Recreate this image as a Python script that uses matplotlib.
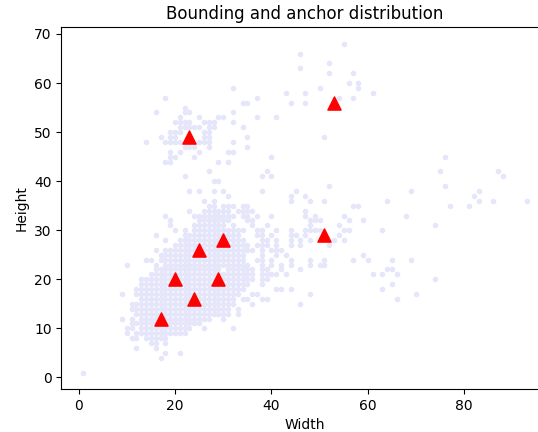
import matplotlib
matplotlib.use("Agg")
import matplotlib.pyplot as plt

# Box sizes (integer grid), grouped by height
box_heights = [68, 66, 64, 63, 62, 60, 59, 58, 57, 56, 55, 54, 53, 52, 51, 50, 49, 48, 47, 46,
               45, 44, 42, 41, 40, 39, 38, 37, 36, 35, 34, 33, 32, 31, 30, 29, 28, 27, 26, 25,
               24, 23, 22, 21, 20, 19, 18, 17, 16, 15, 14, 13, 12, 11, 10, 9, 8, 7, 6, 5, 4, 1]
box_widths = [
    [55],
    [46],
    [52],
    [46],
    [52, 57],
    [56, 58],
    [32, 50, 58],
    [43, 47, 61],
    [18, 37, 54, 57],
    [34, 35, 44, 47],
    [22],
    [16, 22, 23, 32],
    [21, 25, 29, 30, 37, 41],
    [20, 21, 22, 23, 26, 27, 28, 32],
    [21, 22, 23, 24, 25, 27, 28, 34],
    [19, 20, 21, 26, 27],
    [17, 19, 20, 26, 27, 35, 51],
    [14, 18, 19, 20, 21, 25, 26, 27, 32],
    [22, 23, 24, 27, 35],
    [19, 21, 25, 31, 32],
    [19, 20, 24, 40, 76],
    [18, 19, 29, 31],
    [27, 39, 75, 87],
    [22, 38, 40, 88],
    [28, 29],
    [52, 76],
    [23, 25, 28, 30, 38, 45, 69, 83],
    [31, 44, 47, 82],
    [26, 28, 44, 48, 51, 64, 83, 86, 93],
    [27, 28, 30, 31, 32, 34, 35, 57, 58, 77, 81],
    [23, 26, 27, 28, 29, 30, 31, 33, 34, 35, 36, 47],
    [18, 24, 25, 26, 27, 28, 29, 30, 31, 32, 34, 35, 37, 40, 47, 49, 55, 68],
    [19, 25, 26, 27, 28, 29, 30, 31, 35, 36, 48, 49, 50, 56, 59],
    [19, 24, 25, 26, 27, 28, 29, 30, 32, 36, 39, 48, 54, 74],
    [20, 22, 24, 25, 26, 27, 28, 29, 30, 31, 32, 33, 34, 37, 38, 41, 44, 47, 48, 49, 50, 55, 56, 63],
    [16, 22, 23, 24, 25, 26, 27, 28, 29, 30, 31, 32, 33, 37, 38, 40, 44, 45, 47, 54],
    [18, 21, 22, 23, 24, 25, 26, 27, 28, 29, 30, 31, 32, 33, 34, 38, 39, 41, 44, 46, 48, 53, 55],
    [20, 21, 22, 23, 24, 25, 26, 27, 28, 29, 30, 31, 32, 33, 34, 35, 37, 38, 39, 41, 44, 46, 52],
    [16, 18, 19, 20, 21, 22, 23, 24, 25, 26, 27, 28, 29, 30, 31, 32, 33, 34, 35, 36, 38, 40, 41, 42],
    [17, 18, 19, 20, 21, 22, 23, 24, 25, 26, 27, 28, 29, 30, 31, 32, 33, 34, 38, 41, 43, 59],
    [14, 15, 17, 18, 19, 20, 21, 22, 23, 24, 25, 26, 27, 28, 29, 30, 31, 32, 33, 34, 37, 38, 40, 44,
     48, 51, 57, 60, 65, 69],
    [10, 16, 18, 19, 20, 21, 22, 23, 24, 25, 26, 27, 28, 29, 30, 31, 32, 33, 34, 35, 38, 40, 42, 44,
     48, 50, 51],
    [16, 17, 18, 19, 20, 21, 22, 23, 24, 25, 26, 27, 28, 29, 31, 32, 33, 34, 35, 36, 38, 39, 42, 46,
     64, 65],
    [15, 16, 17, 18, 19, 20, 21, 22, 23, 24, 25, 26, 27, 28, 29, 30, 31, 32, 33, 34, 35, 36, 38, 39,
     40, 41, 43, 61, 63, 66],
    [13, 14, 15, 16, 17, 18, 19, 20, 21, 22, 23, 24, 25, 26, 27, 28, 29, 30, 31, 32, 33, 34, 35, 36,
     38, 39, 74],
    [13, 14, 15, 16, 17, 18, 19, 20, 21, 22, 23, 24, 25, 26, 27, 28, 29, 30, 31, 32, 33, 34, 35, 38, 65],
    [12, 13, 14, 15, 16, 17, 18, 19, 20, 21, 22, 23, 24, 25, 26, 27, 28, 29, 30, 31, 32, 33, 34, 41,
     42, 44, 63],
    [9, 12, 13, 14, 15, 16, 17, 18, 19, 20, 21, 22, 23, 24, 25, 26, 27, 28, 29, 30, 31, 32, 33, 36,
     37, 48, 70],
    [13, 14, 15, 16, 17, 18, 19, 20, 21, 22, 23, 24, 25, 26, 27, 28, 29, 30, 31, 32, 34, 35, 38, 39, 66],
    [11, 12, 13, 14, 15, 16, 17, 18, 19, 20, 21, 22, 23, 24, 25, 26, 27, 28, 29, 30, 31, 32, 36, 46],
    [11, 12, 13, 14, 15, 16, 17, 18, 19, 20, 21, 22, 23, 24, 25, 26, 27, 28, 29, 30, 31, 33],
    [12, 13, 14, 15, 16, 17, 18, 19, 20, 21, 22, 23, 24, 25, 26, 27, 28, 29, 30, 31, 33],
    [9, 11, 13, 14, 15, 16, 17, 18, 19, 20, 21, 22, 23, 24, 25, 26, 27, 30],
    [11, 12, 13, 14, 15, 16, 17, 18, 19, 20, 21, 22, 23, 24, 25],
    [10, 11, 13, 14, 15, 16, 17, 18, 19, 20, 21, 22, 23, 26, 32],
    [10, 12, 13, 14, 15, 16, 17, 18, 19, 20, 21, 22],
    [11, 12, 14, 15, 16, 17, 18],
    [15, 16, 18],
    [12, 16],
    [18, 21],
    [17],
    [1],
]

# Anchor boxes (red triangles)
anchor_widths = [17, 20, 24, 25, 29, 30, 51, 53, 23]
anchor_heights = [12, 20, 16, 26, 20, 28, 29, 56, 49]

xs, ys = [], []
for h, ws in zip(box_heights, box_widths):
    for w in ws:
        xs.append(w)
        ys.append(h)

fig = plt.figure(figsize=(5.38, 4.32), dpi=100)
ax = fig.add_axes([61.3 / 538, 43 / 432, (549 - 61.3) / 538, (389 - 27.3) / 432])
ax.scatter(xs, ys, c="lavender", s=9)
ax.scatter(anchor_widths, anchor_heights, c="red", marker="^", s=90)
ax.set_title("Bounding and anchor distribution")
ax.set_xlabel("Width")
ax.set_ylabel("Height")
fig.savefig("out.png", dpi=100)
